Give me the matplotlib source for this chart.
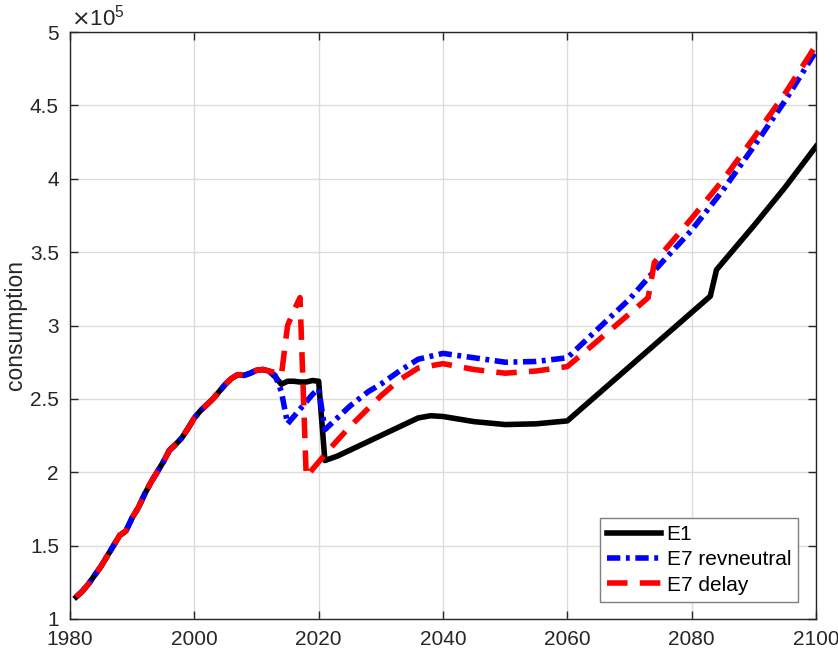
import numpy as np
import matplotlib.pyplot as plt

plt.rcParams['font.family'] = ['Liberation Sans', 'DejaVu Sans']

# shared history, 1981-2012 (units of 1e5)
hist_years = list(range(1981, 2013))
hist_vals = [1.15, 1.19, 1.24, 1.30, 1.36, 1.43, 1.50, 1.57, 1.60, 1.69,
             1.76, 1.85, 1.93, 2.00, 2.07, 2.15, 2.19, 2.235, 2.30, 2.37,
             2.42, 2.46, 2.50, 2.55, 2.60, 2.64, 2.665, 2.66, 2.675, 2.695,
             2.70, 2.69]

e1_years = [2013, 2014, 2015, 2016, 2017, 2018, 2019, 2020, 2021, 2023, 2025,
            2028, 2030, 2033, 2036, 2038, 2040, 2045, 2050, 2055, 2060, 2083,
            2084, 2090, 2095, 2100]
e1_vals = [2.65, 2.60, 2.62, 2.62, 2.615, 2.615, 2.625, 2.62, 2.08, 2.11, 2.15,
           2.21, 2.25, 2.31, 2.37, 2.385, 2.38, 2.345, 2.325, 2.33, 2.35, 3.20,
           3.38, 3.68, 3.94, 4.22]

rev_years = [2013, 2014, 2015, 2016, 2017, 2018, 2019, 2020, 2021, 2023, 2025,
             2028, 2030, 2033, 2036, 2040, 2045, 2050, 2055, 2060, 2065, 2070,
             2075, 2080, 2085, 2090, 2095, 2100]
rev_vals = [2.66, 2.55, 2.33, 2.38, 2.43, 2.48, 2.53, 2.57, 2.29, 2.37, 2.45,
            2.55, 2.60, 2.69, 2.77, 2.81, 2.78, 2.75, 2.755, 2.78, 2.98, 3.18,
            3.42, 3.65, 3.92, 4.22, 4.53, 4.87]

delay_years = [2013, 2014, 2015, 2016, 2017, 2018, 2019, 2020, 2021, 2022, 2025,
               2030, 2033, 2036, 2040, 2045, 2050, 2055, 2060, 2065, 2070, 2073,
               2074, 2075, 2080, 2085, 2090, 2095, 2100]
delay_vals = [2.68, 2.66, 3.00, 3.10, 3.19, 1.97, 2.02, 2.07, 2.12, 2.17, 2.31,
              2.52, 2.63, 2.71, 2.74, 2.70, 2.675, 2.69, 2.72, 2.90, 3.08, 3.19,
              3.43, 3.48, 3.73, 3.99, 4.28, 4.58, 4.91]

scale = 1e5
ink = '#262626'

fig = plt.figure(figsize=(8.38, 6.55), dpi=100)
ax = fig.add_axes([70/838, 36/655, 746/838, 587/655])

ax.plot(hist_years + e1_years, np.array(hist_vals + e1_vals) * scale,
        color='black', lw=4, label='E1')
ax.plot(hist_years + rev_years, np.array(hist_vals + rev_vals) * scale,
        color='blue', lw=4, dashes=(2.4, 1.0, 0.7, 1.0), label='E7 revneutral')
ax.plot(hist_years + delay_years, np.array(hist_vals + delay_vals) * scale,
        color='red', lw=4, dashes=(3.7, 2.2), label='E7 delay')

ax.set_xlim(1980, 2100)
ax.set_ylim(1e5, 5e5)
ax.set_xticks(range(1980, 2101, 20))
yt = np.arange(1, 5.01, 0.5)
ax.set_yticks(yt * scale)
ax.set_yticklabels(['%g' % v for v in yt])
ax.grid(True, color='#dcdcdc', lw=1)
ax.set_axisbelow(True)
ax.tick_params(direction='in', length=6, width=1, colors=ink, labelsize=15,
               top=True, right=True)
ax.tick_params(axis='x', pad=8)
ax.tick_params(axis='y', pad=8)
for s in ax.spines.values():
    s.set_color(ink)
    s.set_linewidth(1)
ax.set_ylabel('consumption', fontsize=16.5, color=ink, labelpad=2)
ax.text(0.002, 1.003, r'$\times\mathregular{10^5}$', transform=ax.transAxes,
        ha='left', va='bottom', fontsize=16, color=ink)

leg = ax.legend(loc='lower right', bbox_to_anchor=(0.9765, 0.029), borderaxespad=0,
                fontsize=15, fancybox=False, handlelength=2.6, handletextpad=0.25,
                labelspacing=0.3, borderpad=0.35, framealpha=1)
leg.get_frame().set_edgecolor('#7f7f7f')
leg.get_frame().set_linewidth(1)

fig.savefig('out.png', dpi=100)
